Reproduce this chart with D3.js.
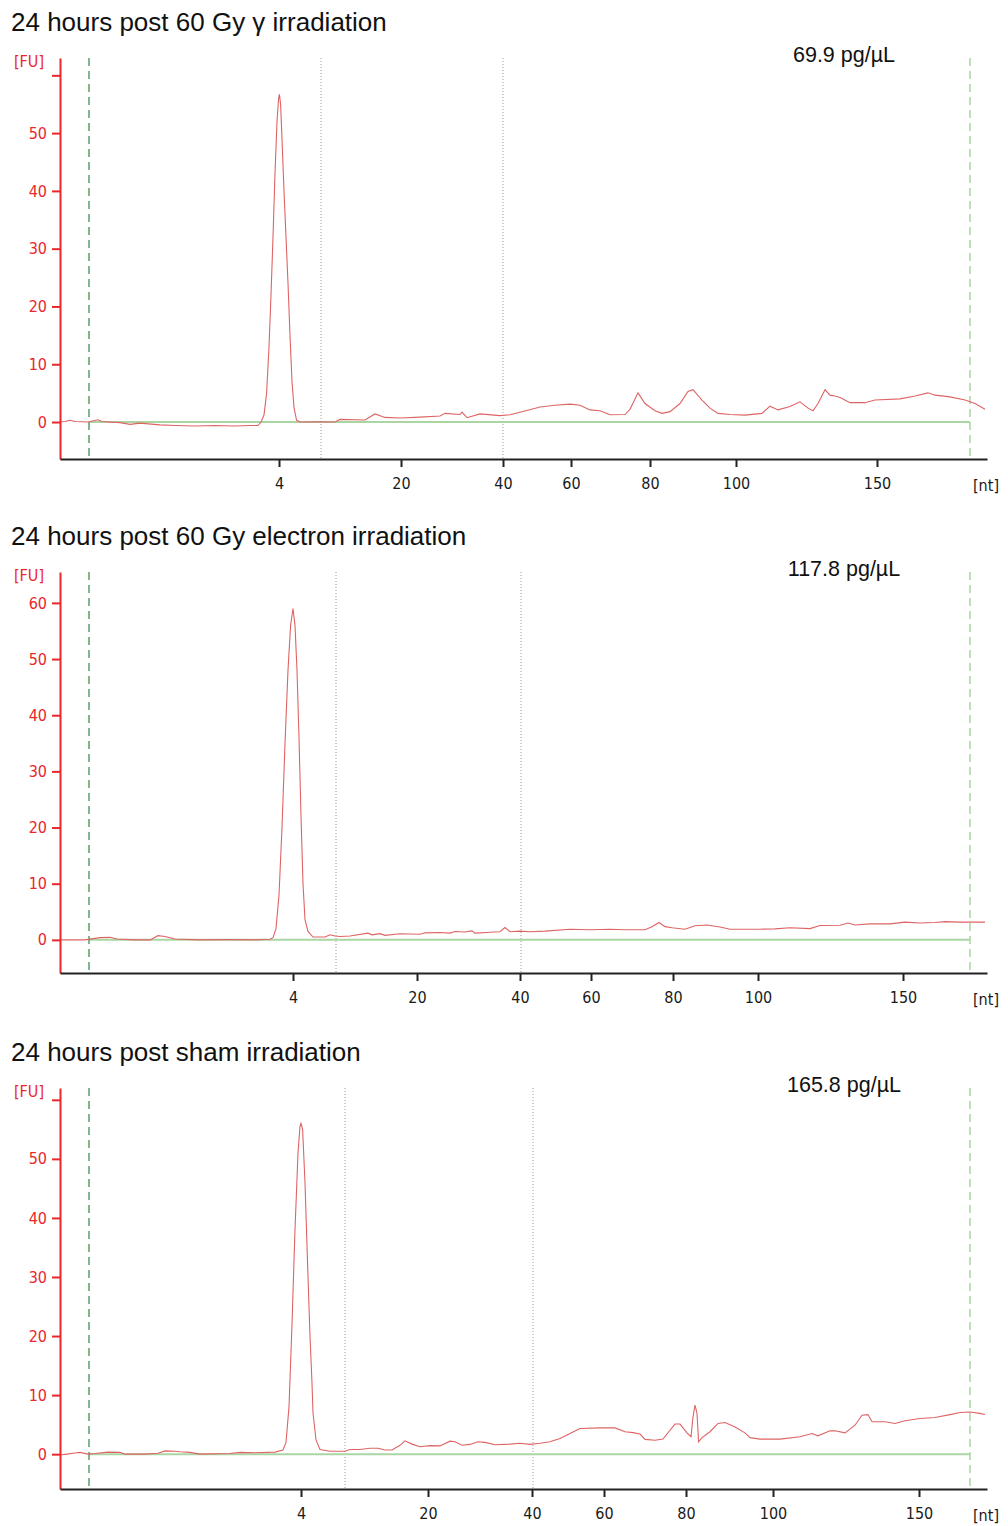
<!DOCTYPE html>
<html>
<head>
<meta charset="utf-8">
<script src="https://cdn.jsdelivr.net/npm/d3@7"></script>
<style>
	body { margin: 0; background: white; }
	svg { display: block; }
	.tick text { font-family: 'DejaVu Sans Condensed', 'DejaVu Sans', sans-serif; font-stretch: condensed; font-size: 16px; }
</style>
</head>
<body>
<div id="chart"></div>
<script>
// panel titles and sample concentrations
var titles = ['24 hours post 60 Gy \u03b3 irradiation', '24 hours post 60 Gy electron irradiation', '24 hours post sham irradiation'];
var concentrations = ['69.9 pg/\u00b5L', '117.8 pg/\u00b5L', '165.8 pg/\u00b5L'];

// ladder sizes (nt) and their migration times (s) in each run
var ladder_nt = [4, 20, 40, 60, 80, 100, 150];
var ladder_time = [
	[29.95, 36.05, 41.15, 44.55, 48.5, 52.8, 59.85],
	[30.65, 36.85, 42.0, 45.55, 49.65, 53.9, 61.15],
	[31.05, 37.4, 42.6, 46.2, 50.3, 54.65, 61.95]
];

// lower / upper marker times and dotted region lines (s)
var marker_time = [20.45, 64.5];
var region_time = [[32.05, 41.15], [32.8, 42.05], [33.25, 42.65]];

var time_domain = [19, 65.35];
var fu_domain = [[-6.4, 63], [-5.9, 65.5], [-5.9, 62]];
var fu_ticks = [0, 10, 20, 30, 40, 50, 60];

// electropherograms: [time (s), fluorescence (FU)]
var trace_gamma = [
	[19.0, 0], [19.25, 0.1], [19.5, 0.3], [19.75, 0.1], [20.4, 0], [20.9, 0.4], [21.1, 0.1],
	[22.0, -0.1], [22.5, -0.4], [23.0, -0.2], [24.0, -0.5], [24.75, -0.6], [25.75, -0.7],
	[26.75, -0.6], [27.75, -0.7], [28.5, -0.6], [28.9, -0.6], [29.05, 0], [29.2, 1.2],
	[29.33, 5], [29.45, 13], [29.55, 22], [29.65, 32], [29.75, 43], [29.85, 52], [29.93, 56],
	[29.97, 56.7], [30.03, 55], [30.1, 49], [30.2, 40], [30.3, 32], [30.4, 24], [30.5, 15],
	[30.6, 7], [30.7, 2.5], [30.83, 0.3], [31.0, 0], [32.0, 0.05], [32.75, 0], [33.0, 0.45],
	[34.25, 0.35], [34.75, 1.4], [35.25, 0.8], [36.0, 0.7], [37.0, 0.85], [38.0, 1.05],
	[38.25, 1.5], [39.0, 1.3], [39.1, 1.7], [39.35, 0.75], [40.0, 1.4], [41.0, 1.1],
	[41.5, 1.25], [42.25, 1.9], [43.0, 2.6], [43.75, 2.9], [44.5, 3.1], [45.0, 2.9],
	[45.5, 2.1], [46.0, 1.95], [46.5, 1.25], [47.25, 1.3], [47.5, 2.2], [47.9, 5.05],
	[48.25, 3.2], [48.75, 1.95], [49.1, 1.5], [49.5, 1.8], [50.0, 3.2], [50.4, 5.3],
	[50.65, 5.6], [51.1, 3.8], [51.5, 2.4], [51.9, 1.5], [52.5, 1.3], [53.25, 1.2],
	[54.1, 1.5], [54.5, 2.75], [54.9, 2.1], [55.5, 2.7], [56.0, 3.5], [56.4, 2.4],
	[56.65, 1.95], [56.9, 3.2], [57.25, 5.6], [57.5, 4.65], [57.75, 4.5], [58.0, 4.25],
	[58.5, 3.35], [59.25, 3.35], [59.75, 3.8], [61.0, 4.0], [61.75, 4.5], [62.4, 5.05],
	[62.75, 4.65], [63.5, 4.35], [64.25, 3.8], [64.75, 3.2], [65.25, 2.2]
];
var trace_electron = [
	[19.0, 0], [19.4, 0], [20.25, 0], [21.0, 0.4], [21.5, 0.45], [21.85, 0.15], [22.75, 0],
	[23.5, 0], [23.9, 0.75], [24.25, 0.6], [24.75, 0.15], [26.0, 0], [27.5, 0.05], [28.75, 0],
	[29.5, 0.1], [29.65, 0.4], [29.8, 2], [29.95, 8], [30.1, 20], [30.25, 35], [30.4, 48],
	[30.53, 56], [30.65, 59], [30.75, 56], [30.85, 48], [30.95, 36], [31.05, 22], [31.15, 10],
	[31.25, 3.6], [31.4, 1.5], [31.65, 0.5], [32.25, 0.5], [32.5, 0.9], [32.75, 0.7],
	[33.0, 0.6], [33.5, 0.7], [34.4, 1.2], [34.6, 0.9], [35.0, 1.1], [35.25, 0.8], [36.0, 1.1],
	[37.0, 1.0], [37.25, 1.25], [38.0, 1.3], [38.5, 1.2], [38.75, 1.5], [39.25, 1.4],
	[39.6, 1.6], [39.75, 1.2], [40.5, 1.35], [41.0, 1.45], [41.25, 2.2], [41.5, 1.45],
	[42.0, 1.55], [42.5, 1.45], [43.25, 1.55], [44.5, 1.9], [45.5, 1.8], [46.5, 1.9],
	[47.25, 1.8], [48.25, 1.8], [48.6, 2.35], [48.95, 3.1], [49.25, 2.35], [49.6, 2.15],
	[50.25, 1.9], [50.75, 2.5], [51.35, 2.65], [52.0, 2.3], [52.5, 1.9], [54.0, 1.9],
	[54.75, 1.95], [55.5, 2.15], [56.5, 2.0], [57.0, 2.55], [58.0, 2.6], [58.4, 3.0],
	[58.75, 2.65], [59.5, 2.85], [60.5, 2.85], [61.25, 3.15], [62.0, 3.0], [62.75, 3.1],
	[63.25, 3.25], [64.0, 3.15], [65.25, 3.15]
];
var trace_sham = [
	[19.0, -0.15], [19.35, 0], [19.75, 0.2], [20.0, 0.3], [20.4, 0], [20.75, 0.1], [21.4, 0.35],
	[22.0, 0.3], [22.25, 0], [23.25, 0], [23.9, 0.15], [24.25, 0.55], [24.75, 0.5], [25.0, 0.4],
	[25.5, 0.3], [26.0, 0], [27.5, 0.1], [28.0, 0.3], [28.75, 0.25], [29.75, 0.35], [30.15, 0.7],
	[30.3, 2], [30.45, 8], [30.6, 22], [30.75, 38], [30.9, 51], [31.0, 55.5], [31.05, 56],
	[31.13, 55], [31.25, 46], [31.4, 30], [31.5, 20], [31.6, 12], [31.65, 7], [31.8, 2.4],
	[32.0, 0.8], [32.5, 0.5], [33.25, 0.5], [33.5, 0.8], [34.0, 0.8], [34.5, 1.0], [34.9, 1.0],
	[35.25, 0.7], [35.6, 0.7], [36.0, 1.5], [36.25, 2.25], [36.6, 1.7], [37.0, 1.25],
	[37.5, 1.45], [38.0, 1.4], [38.5, 2.2], [38.75, 2.1], [39.1, 1.5], [39.5, 1.65],
	[39.9, 2.1], [40.25, 2.0], [40.75, 1.6], [41.5, 1.7], [42.0, 1.85], [42.5, 1.65],
	[43.0, 1.85], [43.5, 2.1], [44.0, 2.65], [44.5, 3.5], [45.0, 4.35], [46.0, 4.45],
	[46.75, 4.45], [47.25, 3.8], [47.65, 3.65], [48.0, 3.4], [48.25, 2.5], [48.75, 2.35],
	[49.15, 2.55], [49.5, 4.05], [49.75, 5.1], [50.0, 5.1], [50.35, 3.6], [50.55, 2.95],
	[50.65, 6.3], [50.75, 8.3], [50.85, 6.9], [50.93, 2.1], [51.1, 2.8], [51.5, 3.8],
	[51.9, 5.2], [52.25, 5.35], [52.75, 4.6], [53.25, 3.6], [53.5, 2.8], [54.0, 2.55],
	[55.0, 2.55], [56.0, 2.95], [56.6, 3.5], [56.9, 3.1], [57.5, 3.95], [57.75, 3.95],
	[58.25, 3.6], [58.75, 4.9], [59.1, 6.6], [59.4, 6.7], [59.6, 5.5], [60.25, 5.5],
	[60.75, 5.2], [61.25, 5.65], [62.0, 6.05], [62.75, 6.2], [63.5, 6.7], [64.0, 7.05],
	[64.5, 7.15], [65.0, 6.9], [65.25, 6.7]
];
var traces = [trace_gamma, trace_electron, trace_sham];

function draw_chart() {
	var red = '#e8282b';
	var width = 1008, height = 1526;
	var plot_left = 60, plot_right = 987, plot_h = 401;
	var panel_top = [58, 572, 1088];
	var label_font = 'DejaVu Sans Condensed, DejaVu Sans, sans-serif';

	var svg = d3.select('#chart')
		.append('svg')
			.attr('width', width)
			.attr('height', height);

	var x = d3.scaleLinear()
		.domain(time_domain)
		.range([plot_left, plot_right]);

	for (var p = 0; p < 3; p++) {
		var panel_y = panel_top[p];
		var g = svg.append('g')
			.attr('transform', 'translate(0,' + panel_y + ')');

		var y = d3.scaleLinear()
			.domain(fu_domain[p])
			.range([plot_h, 0]);

		// title
		svg.append('text')
			.attr('x', 11)
			.attr('y', panel_y - 27)
			.text(titles[p])
			.style('font-family', 'Liberation Sans, Arial, sans-serif')
			.style('font-size', '26px')
			.style('fill', '#111');

		// concentration
		g.append('text')
			.attr('text-anchor', 'middle')
			.attr('x', 844)
			.attr('y', 4)
			.text(concentrations[p])
			.style('font-family', 'Liberation Sans, Arial, sans-serif')
			.style('font-size', '21.5px')
			.style('fill', '#111');

		// dotted region lines
		g.selectAll('.region')
			.data(region_time[p])
			.enter()
			.append('line')
				.attr('class', 'region')
				.attr('x1', function(d) { return x(d); })
				.attr('x2', function(d) { return x(d); })
				.attr('y1', 0)
				.attr('y2', plot_h)
				.attr('stroke', '#9a9a9a')
				.attr('stroke-width', 1)
				.attr('stroke-dasharray', '1,2');

		// baseline
		g.append('line')
			.attr('x1', x(marker_time[0]))
			.attr('x2', x(marker_time[1]))
			.attr('y1', y(0))
			.attr('y2', y(0))
			.attr('stroke', '#a9d6a3')
			.attr('stroke-width', 2);

		// markers
		g.selectAll('.marker')
			.data(marker_time)
			.enter()
			.append('line')
				.attr('class', 'marker')
				.attr('x1', function(d) { return x(d); })
				.attr('x2', function(d) { return x(d); })
				.attr('y1', 0)
				.attr('y2', plot_h)
				.attr('stroke', function(d, i) { return i == 0 ? '#5b9e68' : '#a9d6a3'; })
				.attr('stroke-width', 1.5)
				.attr('stroke-dasharray', '8,5');

		// trace
		g.append('path')
			.datum(traces[p])
			.attr('fill', 'none')
			.attr('stroke', '#de6464')
			.attr('stroke-width', 1.1)
			.attr('d', d3.line()
				.x(function(d) { return x(d[0]); })
				.y(function(d) { return y(d[1]); }));

		// y axis
		var ya = g.append('g')
			.attr('transform', 'translate(' + plot_left + ',0)')
			.call(d3.axisLeft(y)
				.tickValues(fu_ticks)
				.tickSize(8)
				.tickPadding(5)
				.tickSizeOuter(0)
				.tickFormat(function(d) { return y(d) < 25 ? '' : d; }));
		ya.select('.domain').attr('stroke', red).attr('stroke-width', 2);
		ya.selectAll('.tick line').attr('stroke', red).attr('stroke-width', 2);
		ya.selectAll('.tick text').attr('fill', red);

		g.append('text')
			.attr('text-anchor', 'middle')
			.attr('x', 29)
			.attr('y', 9)
			.text('[FU]')
			.style('font-family', label_font)
			.style('font-stretch', 'condensed')
			.style('font-size', '16px')
			.style('fill', red);

		// x axis
		var xa = g.append('g')
			.attr('transform', 'translate(0,' + plot_h + ')')
			.call(d3.axisBottom(x)
				.tickValues(ladder_time[p])
				.tickSize(8)
				.tickPadding(11)
				.tickSizeOuter(0)
				.tickFormat(function(d, i) { return ladder_nt[i]; }));
		xa.select('.domain').attr('stroke', '#222').attr('stroke-width', 2);
		xa.selectAll('.tick line').attr('stroke', '#222').attr('stroke-width', 2);
		xa.selectAll('.tick text').attr('fill', '#1a1a1a');

		g.append('text')
			.attr('text-anchor', 'middle')
			.attr('x', 986)
			.attr('y', plot_h + 32)
			.text('[nt]')
			.style('font-family', label_font)
			.style('font-stretch', 'condensed')
			.style('font-size', '16px')
			.style('fill', '#1a1a1a');
	}
}

draw_chart();
</script>
</body>
</html>
